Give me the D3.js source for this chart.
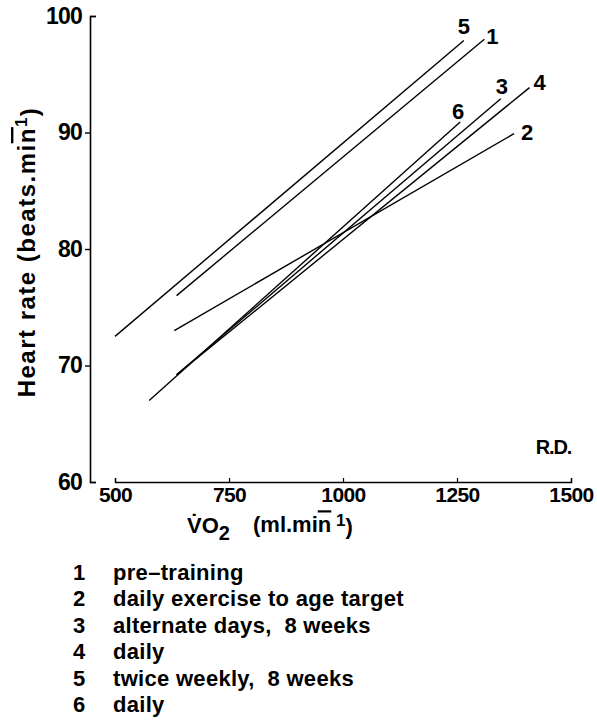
<!DOCTYPE html>
<html>
<head>
<meta charset="utf-8">
<script src="https://cdn.jsdelivr.net/npm/d3@7"></script>
<style>
  html, body { margin: 0; padding: 0; background: #fff; }
  svg { display: block; }
  text { font-family: "Liberation Sans", Arial, Helvetica, sans-serif; fill: #000; white-space: pre; }
</style>
</head>
<body>
<svg id="chart" width="597" height="720"></svg>
<script>
// ---- data ----
const seriesIds   = ["1", "2", "3", "4", "5", "6"];
const seriesNames = ["pre\u2013training", "daily exercise to age target", "alternate days,  8 weeks", "daily", "twice weekly,  8 weeks", "daily"];
const vo2Start = [635, 630, 635, 635, 500, 575];
const vo2End   = [1310, 1375, 1346, 1409, 1265, 1257];
const hrStart  = [76.0, 73.0, 69.2, 69.2, 72.5, 67.0];
const hrEnd    = [98.0, 89.9, 92.9, 93.85, 97.9, 90.9];
const xTicks = [500, 750, 1000, 1250, 1500];
const yTicks = [60, 70, 80, 90, 100];

// label offsets (px) relative to line end
const labelDx = [8, 13, 1, 10, 0, -2];
const labelDy = [-3, -1, -12, -5, -14, -11];

const svg = d3.select("#chart");
const x = d3.scaleLinear().domain([500, 1500]).range([115, 571]);
const y = d3.scaleLinear().domain([60, 100]).range([482, 16]);

// y axis
const yAxis = svg.append("g").attr("transform", "translate(90,0)")
  .call(d3.axisLeft(y).tickValues(yTicks).tickSizeInner(5).tickSizeOuter(-6).tickPadding(3).tickFormat(d3.format("d")));
yAxis.selectAll("text").style("font-size", "23px").style("font-weight", "bold").attr("letter-spacing", "-0.8");
yAxis.selectAll(".tick").filter(d => d === 60 || d === 100).select("line").attr("x2", 6);
yAxis.select(".domain").attr("stroke-width", 1.6);
yAxis.selectAll("line").attr("stroke-width", 1.4);

// x axis
const xAxis = svg.append("g").attr("transform", "translate(0,482)")
  .call(d3.axisBottom(x).tickValues(xTicks).tickSizeInner(-4).tickSizeOuter(-4).tickPadding(5).tickFormat(d3.format("d")));
xAxis.selectAll("text").style("font-size", "21px").style("font-weight", "bold").attr("letter-spacing", "-0.6");
xAxis.select(".domain").attr("stroke-width", 1.4);
xAxis.selectAll("line").attr("stroke-width", 1.2);

// axis titles
const yTitle = svg.append("text")
  .attr("transform", "translate(35,252) rotate(-90)")
  .attr("text-anchor", "middle").attr("letter-spacing", "1.5")
  .style("font-size", "24px").style("font-weight", "bold");
yTitle.append("tspan").text("Heart rate (beats.mi");
yTitle.append("tspan").style("text-decoration", "overline").text("n");
yTitle.append("tspan").attr("dy", "-0.45em").style("font-size", "17px").text("1");
yTitle.append("tspan").attr("dy", "0.45em").text(")");

const xTitle = svg.append("text")
  .attr("x", 187).attr("y", 533)
  .style("font-size", "22px").style("font-weight", "bold");
xTitle.append("tspan").text("V\u0307O");
xTitle.append("tspan").attr("dy", "0.35em").style("font-size", "20px").text("2");
xTitle.append("tspan").attr("dy", "-0.35em").attr("x", 253).text("(ml.mi");
xTitle.append("tspan").style("text-decoration", "overline").text("n");
xTitle.append("tspan").attr("dy", "-0.4em").style("font-size", "17px").text(" 1");
xTitle.append("tspan").attr("dy", "0.4em").text(")");

// R.D.
svg.append("text").attr("x", x(1500)).attr("y", y(62.4)).attr("text-anchor", "end")
  .style("font-size", "20px").style("font-weight", "bold").attr("letter-spacing", "-1.2").text("R.D.");

// lines
const rows = seriesIds.map((id, i) => ({ id, x1: vo2Start[i], y1: hrStart[i], x2: vo2End[i], y2: hrEnd[i], dx: labelDx[i], dy: labelDy[i] }));
svg.append("g").selectAll("line").data(rows).join("line")
  .attr("x1", d => x(d.x1)).attr("y1", d => y(d.y1))
  .attr("x2", d => x(d.x2)).attr("y2", d => y(d.y2))
  .attr("stroke", "#000").attr("stroke-width", 1.4);

svg.append("g").selectAll("text").data(rows).join("text")
  .attr("x", d => x(d.x2) + d.dx).attr("y", d => y(d.y2) + d.dy)
  .attr("text-anchor", "middle").attr("dominant-baseline", "central")
  .style("font-size", "22px").style("font-weight", "bold")
  .text(d => d.id);

// legend
const leg = svg.append("g").selectAll("g").data(seriesIds).join("g")
  .attr("transform", (d, i) => `translate(0,${580 + i * 26.4})`);
leg.append("text").attr("x", 79).attr("text-anchor", "middle")
  .style("font-size", "22px").style("font-weight", "bold").text(d => d);
leg.append("text").attr("x", 113).attr("letter-spacing", "0.3")
  .style("font-size", "22px").style("font-weight", "bold")
  .text((d, i) => seriesNames[i]);
</script>
</body>
</html>
